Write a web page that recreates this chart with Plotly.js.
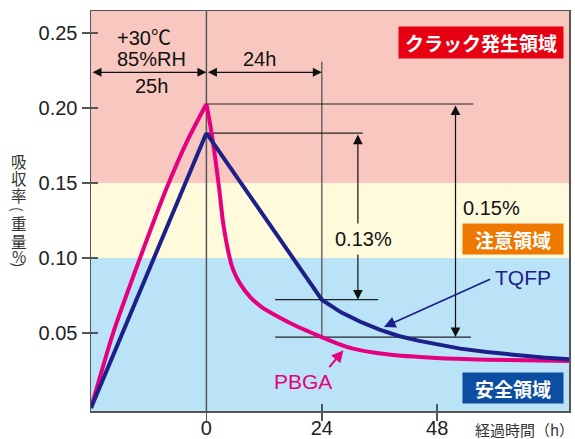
<!DOCTYPE html>
<html><head><meta charset="utf-8">
<script src="https://cdn.plot.ly/plotly-3.0.1.min.js"></script>
<style>html,body{margin:0;padding:0;background:#fff}</style>
</head><body><div id="chart" style="width:575px;height:439px"></div>
<script>
// ---- data (hours, absorption wt%) ----
const pbgaRiseX  = [-24, -19.4, -13.8, -8.1, -4.0, 0];
const pbgaRiseY  = [0, 0.050, 0.100, 0.148, 0.178, 0.2027];
const pbgaDecayX = [0, 0.75, 1.8, 2.7, 3.5, 4.8, 5.6, 7.0, 9.1, 11.5, 15.0, 19.1, 24, 27, 30.5, 37.5, 47.9, 58.3, 75.4];
const pbgaDecayY = [0.2027, 0.1896, 0.1674, 0.1451, 0.1229, 0.1007, 0.0918, 0.0829, 0.0740, 0.0673, 0.0607, 0.0540, 0.0473, 0.0433, 0.0396, 0.0358, 0.0333, 0.0322, 0.0313];
const tqfpRiseX  = [-24, 0];
const tqfpRiseY  = [0, 0.1833];
const tqfpDecayX = [0, 24, 28, 32, 36, 40, 44, 48, 52.8, 58.3, 64, 70, 75.4];
const tqfpDecayY = [0.1833, 0.0722, 0.0638, 0.0575, 0.0522, 0.0480, 0.0449, 0.0422, 0.0396, 0.0373, 0.0352, 0.0336, 0.0325];
const zoneEdges  = [0.10, 0.15];                 // safe / caution / crack boundaries
const zoneNames  = ['安全領域', '注意領域', 'クラック発生領域'];
const xTickVals  = [0, 24, 48];
const xTickText  = ['0', '24', '48'];
const yTickVals  = [0.05, 0.10, 0.15, 0.20, 0.25];
const yTickText  = ['0.05', '0.10', '0.15', '0.20', '0.25'];
const labelTQFP  = 'TQFP';
const labelPBGA  = 'PBGA';
const labelCond  = ['+30℃', '85%RH', '25h'];
const labelDry   = '24h';
const labelDiffT = '0.13%';
const labelDiffP = '0.15%';
const yTitleGlyphs = ['吸', '収', '率', '(', '重', '量', '%', ')'];
const xTitle     = '経過時間（h）';

// ---- derived levels ----
const pbgaPeak = Math.max(...pbgaRiseY);
const tqfpPeak = Math.max(...tqfpRiseY);
const pbgaAt24 = pbgaDecayY[pbgaDecayX.indexOf(24)];
const tqfpAt24 = tqfpDecayY[tqfpDecayX.indexOf(24)];

// ---- style ----
const MAG = '#E4007F', NAVY = '#1D2088';
const XR = [-24, 75.4], YR = [-0.002, 0.2647];
const L = 91, T = 11, PW = 478, PH = 400;
const px = x => (x - L) / PW;          // pixel -> paper
const py = y => (T + PH - y) / PH;
const NUMF = 'Liberation Sans, Arial, Noto Sans CJK JP, sans-serif';
const JPF = 'Noto Sans CJK JP, sans-serif';

const lineT = (x, y, color, shape) => ({x, y, mode: 'lines', type: 'scatter', hoverinfo: 'skip', showlegend: false,
  line: {color, width: 4, shape, smoothing: 0.7}});
const traces = [
  lineT(pbgaRiseX, pbgaRiseY, MAG, 'spline'),
  lineT(pbgaDecayX, pbgaDecayY, MAG, 'spline'),
  lineT(tqfpRiseX, tqfpRiseY, NAVY, 'linear'),
  lineT(tqfpDecayX, tqfpDecayY, NAVY, 'linear'),
  {x: [], y: [], xaxis: 'x2', yaxis: 'y2', type: 'scatter', showlegend: false}
];

const shapes = [
  {type: 'rect', xref: 'paper', yref: 'y', x0: 0, x1: 1, y0: YR[0], y1: zoneEdges[0], fillcolor: '#BAE3F8', line: {width: 0}, layer: 'below'},
  {type: 'rect', xref: 'paper', yref: 'y', x0: 0, x1: 1, y0: zoneEdges[0], y1: zoneEdges[1], fillcolor: '#FFFADC', line: {width: 0}, layer: 'below'},
  {type: 'rect', xref: 'paper', yref: 'y', x0: 0, x1: 1, y0: zoneEdges[1], y1: YR[1], fillcolor: '#F8C7BF', line: {width: 0}, layer: 'below'},
];
const gl = (x0, x1, y0, y1, c, w) => ({type: 'line', xref: 'x', yref: 'y', x0, x1, y0, y1, line: {color: c, width: w}, layer: 'below'});
shapes.push(
  gl(0, 0, YR[0], YR[1], '#555', 1.5),
  gl(24, 24, 0.2309, pbgaAt24, '#555', 1.3),
  gl(0, 55.5, pbgaPeak, pbgaPeak, '#222', 1.2),
  gl(0, 32.5, tqfpPeak, tqfpPeak, '#222', 1.2),
  gl(14.3, 35.7, tqfpAt24, tqfpAt24, '#222', 1.2),
  gl(14.3, 55.0, pbgaAt24, pbgaAt24, '#222', 1.2)
);

const arrow = (x, y, ax, ay, color, w, size, both) => ({
  x, y, ax, ay, xref: 'x', yref: 'y', axref: 'x', ayref: 'y', text: '', showarrow: true,
  arrowhead: 2, startarrowhead: 2, arrowside: both ? 'end+start' : 'end', arrowcolor: color,
  arrowwidth: w, arrowsize: size, startarrowsize: size, standoff: 0, startstandoff: 0
});
const txt = (x, y, text, size, color, extra) => Object.assign({
  xref: 'paper', yref: 'paper', x: px(x), y: py(y), xanchor: 'center', yanchor: 'middle',
  text, showarrow: false, font: {family: NUMF, size, color}
}, extra || {});
const box = (x, y, w, h, text, bg) => ({
  xref: 'paper', yref: 'paper', x: px(x), y: py(y), xanchor: 'center', yanchor: 'middle',
  text: '<b>' + text + '</b>', showarrow: false, bgcolor: bg, width: w, height: h, borderpad: 0,
  font: {family: JPF, size: 19, color: '#fff'}
});

const annotations = [
  arrow(0, 0.2238, XR[0], 0.2238, '#111', 1.2, 1.5, true),
  arrow(24, 0.2238, 0, 0.2238, '#111', 1.2, 1.5, true),
  arrow(31.5, tqfpAt24, 31.5, tqfpPeak, '#111', 1.2, 1.6, true),
  arrow(51.8, pbgaAt24, 51.8, pbgaPeak, '#111', 1.2, 1.6, true),
  arrow(36.9, 0.054, 59.3, 0.0863, NAVY, 1.8, 1.3, false),
  arrow(28.5, 0.0385, 25.3, 0.0263, MAG, 2, 1.2, false),
  txt(144, 38, labelCond[0], 20, '#111'),
  txt(151.5, 59.5, labelCond[1], 20, '#111'),
  txt(151, 86, labelCond[2], 20, '#111'),
  txt(259.5, 59, labelDry, 20, '#111'),
  txt(363, 239, labelDiffT, 20, '#111', {bgcolor: '#FFFADC', borderpad: 4}),
  txt(491, 208, labelDiffP, 20, '#111'),
  txt(523, 277, labelTQFP, 21, NAVY),
  txt(303, 381, labelPBGA, 21, MAG),
  box(480.5, 43, 164, 31, zoneNames[2], '#E60012'),
  box(513.3, 239, 100, 30, zoneNames[1], '#EE7800'),
  box(513.3, 388.3, 100, 30, zoneNames[0], '#0B4EA2'),
  txt(524, 429, xTitle, 15, '#333', {font: {family: JPF, size: 15, color: '#333'}, borderpad: 0})
];
const yGlyphPos = [160.5, 177.5, 195, 209.5, 223, 241.5, 256, 265];
yTitleGlyphs.forEach((g, i) => {
  const paren = (g === '(' || g === ')');
  annotations.push(txt(18.5, yGlyphPos[i], g, paren ? 14 : 15.5, '#333',
    {font: {family: JPF, size: paren ? 14 : 15.5, color: '#333'}, textangle: paren ? 90 : 0, borderpad: 0}));
});

const axisBase = {showgrid: false, zeroline: false, ticklen: 8, tickwidth: 1.5, tickcolor: '#555',
  tickfont: {family: NUMF, size: 20, color: '#222'}, showline: true, mirror: true, linecolor: '#555', linewidth: 1.5};
const layout = {
  width: 575, height: 439, margin: {l: L, r: 575 - L - PW, t: T, b: 439 - T - PH},
  paper_bgcolor: '#fff', plot_bgcolor: 'rgba(0,0,0,0)', showlegend: false,
  xaxis: Object.assign({}, axisBase, {range: XR, ticks: 'outside', tickmode: 'array', tickvals: xTickVals, ticktext: xTickText, ticklabelstandoff: -10}),
  yaxis: Object.assign({}, axisBase, {range: YR, ticks: 'outside', tickmode: 'array', tickvals: yTickVals, ticktext: yTickText}),
  xaxis2: {overlaying: 'x', matches: 'x', anchor: 'y2', range: XR, ticks: 'inside', ticklen: 7, tickwidth: 1.5, tickcolor: '#555',
    tickmode: 'array', tickvals: xTickVals, showticklabels: false, showgrid: false, zeroline: false, showline: false},
  yaxis2: {overlaying: 'y', matches: 'y', anchor: 'x2', range: YR, ticks: 'inside', ticklen: 7, tickwidth: 1.5, tickcolor: '#555',
    tickmode: 'array', tickvals: yTickVals, showticklabels: false, showgrid: false, zeroline: false, showline: false},
  shapes, annotations
};
Plotly.newPlot('chart', traces, layout, {staticPlot: true, displayModeBar: false});
</script></body></html>
